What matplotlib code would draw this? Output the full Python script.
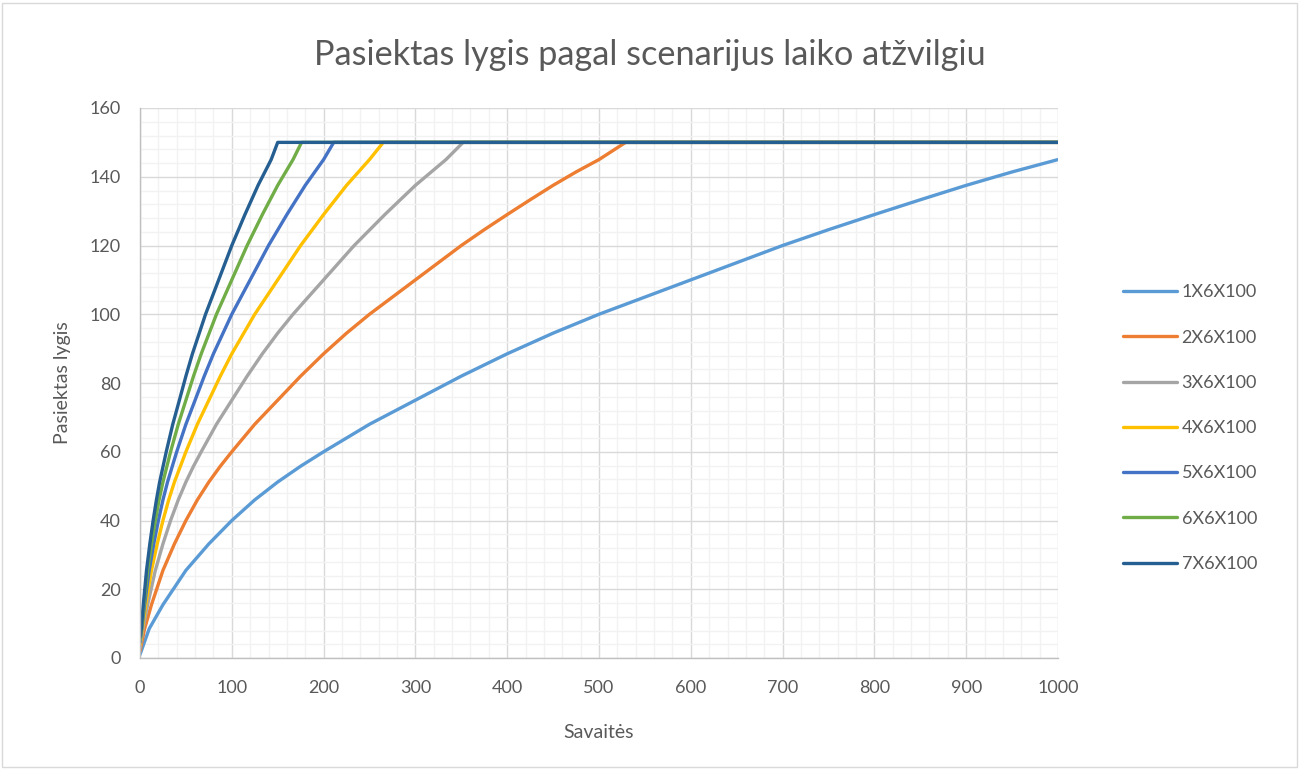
import matplotlib
matplotlib.use('Agg')
from matplotlib import pyplot as plt
from matplotlib.patches import Rectangle

# data (weeks, level) for each scenario
w_1x = [0, 10, 25, 50, 75, 100, 125, 150, 175, 200, 250, 300, 350, 400, 450,
        500, 550, 600, 650, 700, 750, 800, 850, 900, 950, 1000]
v_1x = [1, 8.5, 15.5, 25.5, 33.2, 40, 46, 51.2, 55.8, 60, 68, 75, 82, 88.5, 94.5,
        100, 105, 110, 115, 120, 124.6, 129, 133.3, 137.5, 141.4, 145]

w_2x = [0, 5, 12.5, 25, 37.5, 50, 62.5, 75, 87.5, 100, 125, 150, 175, 200, 225,
        250, 275, 300, 325, 350, 375, 400, 425, 450, 475, 500, 529, 1000]
v_2x = [2, 8.5, 15.5, 25.5, 33.2, 40, 46, 51.2, 55.8, 60, 68, 75, 82, 88.5, 94.5,
        100, 105, 110, 115, 120, 124.6, 129, 133.3, 137.5, 141.4, 145, 150, 150]

w_3x = [0, 3.3, 8.3, 16.7, 25, 33.3, 41.7, 50, 58.3, 66.7, 83.3, 100, 116.7, 133.3,
        150, 166.7, 183.3, 200, 233.3, 266.7, 300, 333.3, 352, 1000]
v_3x = [3, 8.5, 15.5, 25.5, 33.2, 40, 46, 51.2, 55.8, 60, 68, 75, 82, 88.5,
        94.5, 100, 105, 110, 120, 129, 137.5, 145, 150, 150]

w_4x = [0, 2.5, 6.25, 12.5, 18.75, 25, 31.25, 37.5, 50, 62.5, 75, 87.5, 100,
        125, 150, 175, 200, 225, 250, 265, 1000]
v_4x = [3.8, 8.5, 15.5, 25.5, 33.2, 40, 46, 51.2, 60, 68, 75, 82, 88.5,
        100, 110, 120, 129, 137.5, 145, 150, 150]

w_5x = [0, 2, 5, 10, 15, 20, 25, 30, 40, 50, 60, 70, 80, 100, 120, 140, 160,
        180, 200, 211, 1000]
v_5x = [4.5, 8.5, 15.5, 25.5, 33.2, 40, 46, 51.2, 60, 68, 75, 82, 88.5, 100,
        110, 120, 129, 137.5, 145, 150, 150]

w_6x = [0, 1.7, 4.2, 8.3, 12.5, 16.7, 20.8, 25, 33.3, 41.7, 50, 58.3, 66.7,
        83.3, 100, 116.7, 133.3, 150, 166.7, 176, 1000]
v_6x = [5.2, 8.5, 15.5, 25.5, 33.2, 40, 46, 51.2, 60, 68, 75, 82, 88.5,
        100, 110, 120, 129, 137.5, 145, 150, 150]

w_7x = [0, 1.4, 3.6, 7.1, 10.7, 14.3, 17.9, 21.4, 28.6, 35.7, 42.9, 50, 57.1,
        71.4, 85.7, 100, 114.3, 128.6, 142.9, 150, 1000]
v_7x = [6, 8.5, 15.5, 25.5, 33.2, 40, 46, 51.2, 60, 68, 75, 82, 88.5,
        100, 110, 120, 129, 137.5, 145, 150, 150]

labels = ['1X6X100', '2X6X100', '3X6X100', '4X6X100', '5X6X100', '6X6X100', '7X6X100']
weeks = [w_1x, w_2x, w_3x, w_4x, w_5x, w_6x, w_7x]
levels = [v_1x, v_2x, v_3x, v_4x, v_5x, v_6x, v_7x]
colors = ['#5B9BD5', '#ED7D31', '#A5A5A5', '#FFC000', '#4472C4', '#70AD47', '#255E91']

plt.rcParams['font.family'] = ['Lato', 'DejaVu Sans']
text_col = '#595959'

fig = plt.figure(figsize=(13, 7.69), dpi=100)
ax = fig.add_axes([140/1300, 1-658/769, 918/1300, 550/769])

for xs, ys, c, lab in zip(weeks, levels, colors, labels):
    ax.plot(xs, ys, color=c, linewidth=2.4, label=lab, solid_capstyle='round')

ax.set_xlim(0, 1000)
ax.set_ylim(0, 160)
ax.set_xticks(range(0, 1001, 100))
ax.set_yticks(range(0, 161, 20))
ax.set_xticks(range(0, 1001, 20), minor=True)
ax.set_yticks(range(0, 161, 4), minor=True)
ax.grid(which='major', color='#D9D9D9', linewidth=1.0)
ax.grid(which='minor', color='#F2F2F2', linewidth=1.0)
ax.set_axisbelow(True)
for s in ['top', 'right']:
    ax.spines[s].set_visible(False)
for s in ['left', 'bottom']:
    ax.spines[s].set_color('#BFBFBF')
    ax.spines[s].set_linewidth(1.0)
ax.tick_params(which='both', length=0, labelsize=13, labelcolor=text_col)
ax.tick_params(axis='x', pad=16)
ax.tick_params(axis='y', pad=14)

ax.set_xlabel('Savaitės', fontsize=14, color=text_col, labelpad=20)
ax.set_ylabel('Pasiektas lygis', fontsize=14, color=text_col, labelpad=13)
fig.text(650/1300, 1-55/769, 'Pasiektas lygis pagal scenarijus laiko atžvilgiu',
         ha='center', va='center', fontsize=24.7, color=text_col)

leg = ax.legend(loc='center left', bbox_to_anchor=(1.053, 0.418), frameon=False,
                fontsize=13, labelcolor=text_col, handlelength=3.0,
                labelspacing=1.62, handletextpad=0.25)

fig.patches.append(Rectangle((2/1300, 2/769), 1295/1300, 764/769, transform=fig.transFigure,
                             fill=False, edgecolor='#D9D9D9', linewidth=1.0))

fig.savefig('out.png', dpi=100)
